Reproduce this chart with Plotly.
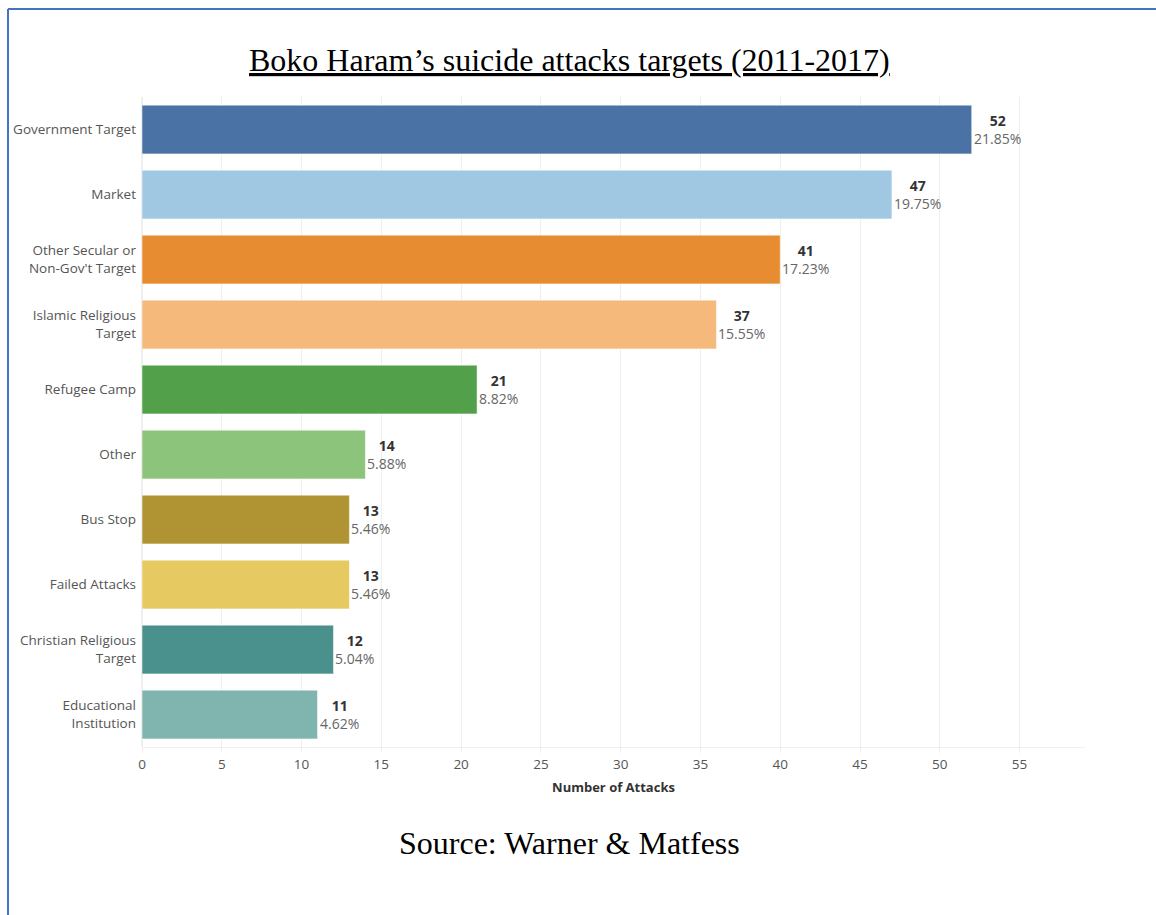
import plotly.graph_objects as go

categories = [
    "Government Target",
    "Market",
    "Other Secular or<br>Non-Gov't Target",
    "Islamic Religious<br>Target",
    "Refugee Camp",
    "Other",
    "Bus Stop",
    "Failed Attacks",
    "Christian Religious<br>Target",
    "Educational<br>Institution",
]
# bar lengths as drawn in the source chart
bar_lengths = [52, 47, 40, 36, 21, 14, 13, 13, 12, 11]
# counts printed in the labels
label_counts = [52, 47, 41, 37, 21, 14, 13, 13, 12, 11]
percents = ["21.85%", "19.75%", "17.23%", "15.55%", "8.82%", "5.88%", "5.46%", "5.46%", "5.04%", "4.62%"]
colors = ["#4A72A5", "#A0C8E2", "#E78C30", "#F4B97B", "#53A04A",
          "#8BC47A", "#B09434", "#E7C962", "#4A918D", "#80B4AE"]
tick_vals = [0, 5, 10, 15, 20, 25, 30, 35, 40, 45, 50, 55]

W, H = 1156, 915
L, R, T, B = 142, 1085, 97, 747

fig = go.Figure()
fig.add_trace(go.Bar(
    y=categories, x=bar_lengths, orientation="h",
    marker=dict(color=colors, line=dict(color="rgba(255,255,255,0.5)", width=1)),
    width=0.75, hoverinfo="skip",
))

for c, v, n, p in zip(categories, bar_lengths, label_counts, percents):
    fig.add_annotation(
        x=v, y=c, xref="x", yref="y", xanchor="left", yanchor="middle",
        xshift=0, showarrow=False, align="center",
        text=f"<b>{n}</b><br><span style='color:#666666'>{p}</span>",
        font=dict(family="Open Sans", size=14, color="#333333"),
    )

pw = R - L
ph = B - T
def px2x(px):
    return (px - L) / pw
def py2y(py):
    return 1 - (py - T) / ph

fig.add_annotation(
    x=px2x(569), y=py2y(60), xref="paper", yref="paper",
    xanchor="center", yanchor="middle", showarrow=False,
    text="<u>Boko Haram’s suicide attacks targets (2011-2017)</u>",
    font=dict(family="Liberation Serif", size=32, color="#000000"),
)
fig.add_annotation(
    x=px2x(569), y=py2y(843), xref="paper", yref="paper",
    xanchor="center", yanchor="middle", showarrow=False,
    text="Source: Warner &amp; Matfess",
    font=dict(family="Liberation Serif", size=32, color="#000000"),
)

# frame lines
fig.add_shape(type="line", xref="paper", yref="paper",
              x0=px2x(8), x1=px2x(8), y0=py2y(9), y1=py2y(915),
              line=dict(color="#4472C4", width=2))
fig.add_shape(type="line", xref="paper", yref="paper",
              x0=px2x(8), x1=px2x(1156), y0=py2y(9), y1=py2y(9),
              line=dict(color="#4472C4", width=2))

fig.update_layout(
    width=W, height=H,
    margin=dict(l=L, r=W - R, t=T, b=H - B, pad=0),
    paper_bgcolor="white", plot_bgcolor="white",
    showlegend=False,
    bargap=0.25,
    font=dict(family="Open Sans", size=13, color="#555555"),
)
fig.update_xaxes(
    range=[0, 59.1], tickvals=tick_vals,
    showgrid=True, gridcolor="#EFEFEF", gridwidth=1,
    zeroline=True, zerolinecolor="#EFEFEF",
    showline=True, linecolor="#EFEFEF",
    ticks="outside", ticklen=5, tickcolor="#EFEFEF",
    tickfont=dict(family="Open Sans", size=13.5, color="#555555"),
    title=dict(text="<b>Number of Attacks</b>", standoff=10,
               font=dict(family="Open Sans", size=13, color="#333333")),
)
fig.update_yaxes(
    autorange="reversed", showgrid=False, ticks="", ticklabelstandoff=5,
    tickfont=dict(family="Open Sans", size=13.5, color="#555555"),
)

fig.write_html("out.html")
